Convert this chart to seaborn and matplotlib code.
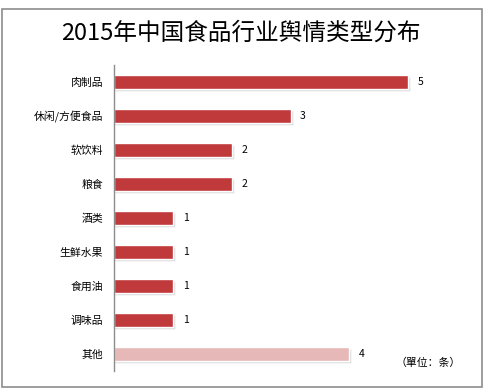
import matplotlib
matplotlib.use("Agg")
import matplotlib.pyplot as plt
import seaborn as sns
import pandas as pd
from matplotlib.patches import Rectangle

categories = ["肉制品", "休闲/方便食品", "软饮料", "粮食", "酒类", "生鲜水果", "食用油", "调味品", "其他"]
values = [5, 3, 2, 2, 1, 1, 1, 1, 4]
title = "2015年中国食品行业舆情类型分布"
unit_note = "（單位：条）"

sns.set_theme(style="white")
plt.rcParams['font.family'] = ['Noto Sans CJK SC', 'DejaVu Sans']

df = pd.DataFrame({"cat": categories, "val": values})
colors = ["#C0393B"] * 8 + ["#E6B8B7"]

W, H = 485, 390
fig = plt.figure(figsize=(W / 100, H / 100), dpi=100)
# axes: x 114.5 -> 467 ; y 65 -> 371
ax = fig.add_axes([114.5 / W, 1 - 371 / H, (467 - 114.5) / W, (371 - 65) / H])

# shadow
ax.barh([i + 0.06 for i in range(len(values))], [v + 0.03 for v in values],
        height=0.41, color="#b0b0b0", alpha=0.45, zorder=1)
sns.barplot(data=df, y="cat", x="val", hue="cat", palette=colors, legend=False,
            orient="h", width=0.41, ax=ax, zorder=2, saturation=1)

ax.set_xlim(0, 6)
ax.set_ylim(8.5, -0.5)
ax.set_xlabel("")
ax.set_ylabel("")
ax.set_xticks([])
for s in ["top", "right", "bottom"]:
    ax.spines[s].set_visible(False)
ax.spines["left"].set_color("#8c8c8c")
ax.spines["left"].set_linewidth(1.0)
ax.tick_params(axis="y", length=0, pad=8, labelsize=7.8, labelcolor="#000000")

for i, v in enumerate(values):
    ax.text(v + 0.16, i, str(v), va="center", ha="left", fontsize=7.5, color="#000000")

fig.text(0.497, 1 - 33 / H, title, ha="center", va="center", fontsize=17,
         fontweight="light", color="#000000")
fig.text(428 / W, 1 - 363 / H, unit_note, ha="center", va="center", fontsize=7.8, color="#000000")

fig.patches.append(Rectangle((2.5 / W, 1 - 387 / H), (482 - 2.5) / W, (387 - 9) / H,
                             transform=fig.transFigure, fill=False,
                             edgecolor="#8c8c8c", linewidth=1.2))

fig.savefig("out.png", dpi=100, facecolor="white")
